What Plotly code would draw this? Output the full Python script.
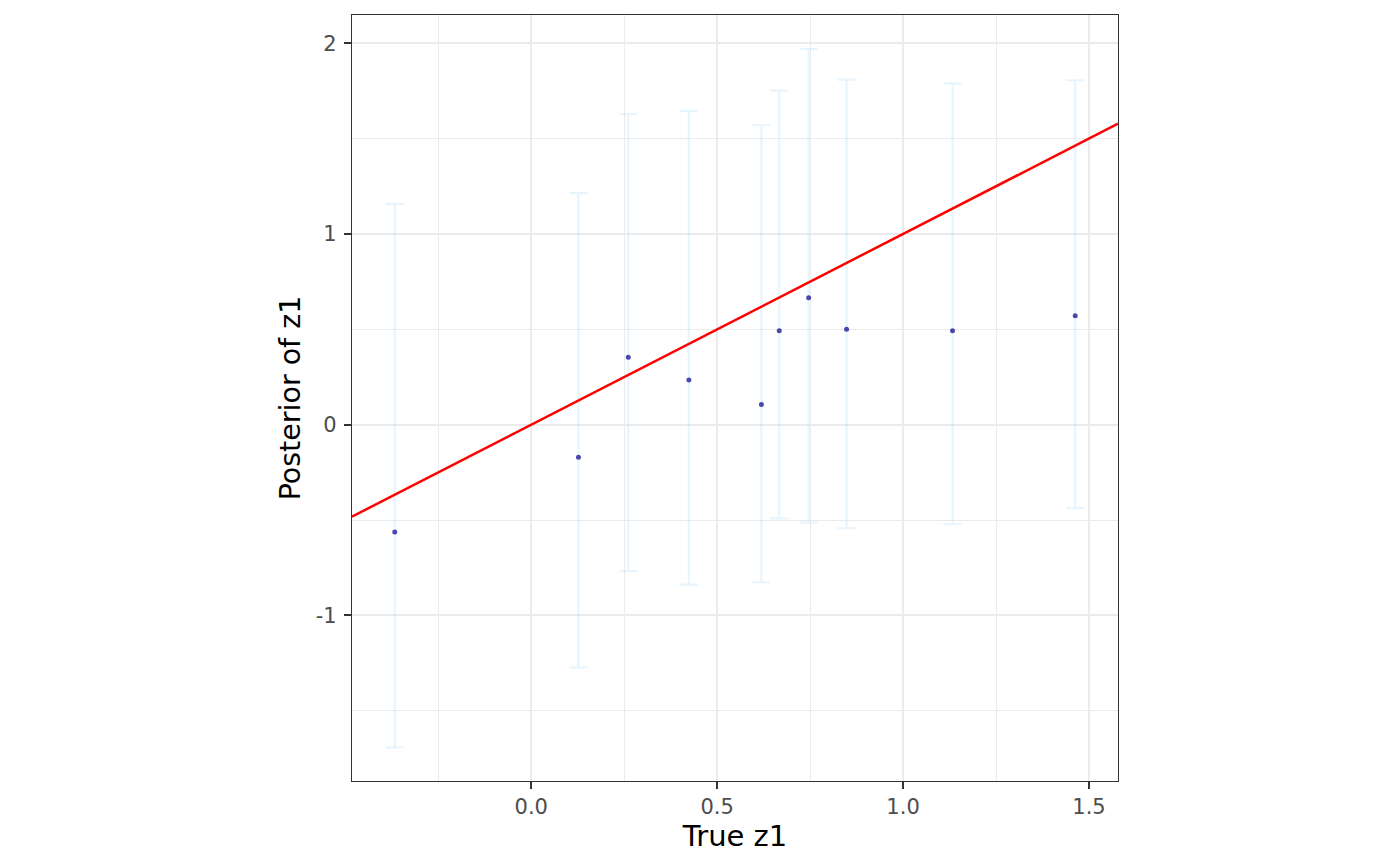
import plotly.graph_objects as go

# Data
true_z1 = [-0.367, 0.127, 0.261, 0.424, 0.619, 0.667, 0.746, 0.848, 1.133, 1.463]
post_mean = [-0.562, -0.171, 0.353, 0.234, 0.106, 0.493, 0.665, 0.501, 0.493, 0.571]
post_upper = [1.156, 1.214, 1.628, 1.645, 1.570, 1.752, 1.969, 1.809, 1.790, 1.806]
post_lower = [-1.692, -1.272, -0.768, -0.838, -0.826, -0.491, -0.513, -0.543, -0.522, -0.436]

x_range = [-0.482, 1.578]
y_range = [-1.868, 2.148]
x_ticks = [0.0, 0.5, 1.0, 1.5]
x_ticklabels = ["0.0", "0.5", "1.0", "1.5"]
y_ticks = [-1, 0, 1, 2]
y_ticklabels = ["-1", "0", "1", "2"]

err_plus = [u - m for u, m in zip(post_upper, post_mean)]
err_minus = [m - l for m, l in zip(post_mean, post_lower)]

FONT = "DejaVu Sans"

fig = go.Figure()

# error bars
fig.add_trace(go.Scatter(
    x=true_z1, y=post_mean, mode="markers",
    marker=dict(size=1, color="rgba(0,0,0,0)"),
    error_y=dict(type="data", symmetric=False, array=err_plus, arrayminus=err_minus,
                 color="rgba(135,206,250,0.2)", thickness=2.2, width=9),
    showlegend=False, hoverinfo="skip"))

# points
fig.add_trace(go.Scatter(
    x=true_z1, y=post_mean, mode="markers",
    marker=dict(size=5, color="rgba(0,0,139,0.7)", line=dict(width=0)),
    showlegend=False))

# identity line (y = x) across the panel
fig.add_trace(go.Scatter(
    x=x_range, y=x_range, mode="lines",
    line=dict(color="red", width=2.5), showlegend=False, hoverinfo="skip"))

axis_common = dict(
    showline=True, linecolor="#333333", linewidth=1.3, mirror=True,
    ticks="outside", ticklen=7, tickwidth=2, tickcolor="#333333",
    tickfont=dict(family=FONT, size=21, color="#4D4D4D"),
    showgrid=True, gridcolor="#EBEBEB", gridwidth=2.2,
    zeroline=False, automargin=False,
)

fig.update_xaxes(
    range=x_range, tickvals=x_ticks, ticktext=x_ticklabels,
    minor=dict(dtick=0.25, tick0=0, showgrid=True, gridcolor="#EBEBEB", gridwidth=1.1, ticks=""),
    title=dict(text="True z1", font=dict(family=FONT, size=29, color="black"), standoff=4),
    **axis_common)
fig.update_yaxes(
    range=y_range, tickvals=y_ticks, ticktext=y_ticklabels,
    ticklabelstandoff=3,
    minor=dict(dtick=0.5, tick0=0, showgrid=True, gridcolor="#EBEBEB", gridwidth=1.1, ticks=""),
    title=dict(text="Posterior of z1", font=dict(family=FONT, size=28.5, color="black"), standoff=6),
    **axis_common)

fig.update_layout(
    width=1400, height=866,
    margin=dict(l=344, r=290, t=7, b=93, pad=0),
    paper_bgcolor="white", plot_bgcolor="white",
    showlegend=False,
)

fig.write_html("out.html")
